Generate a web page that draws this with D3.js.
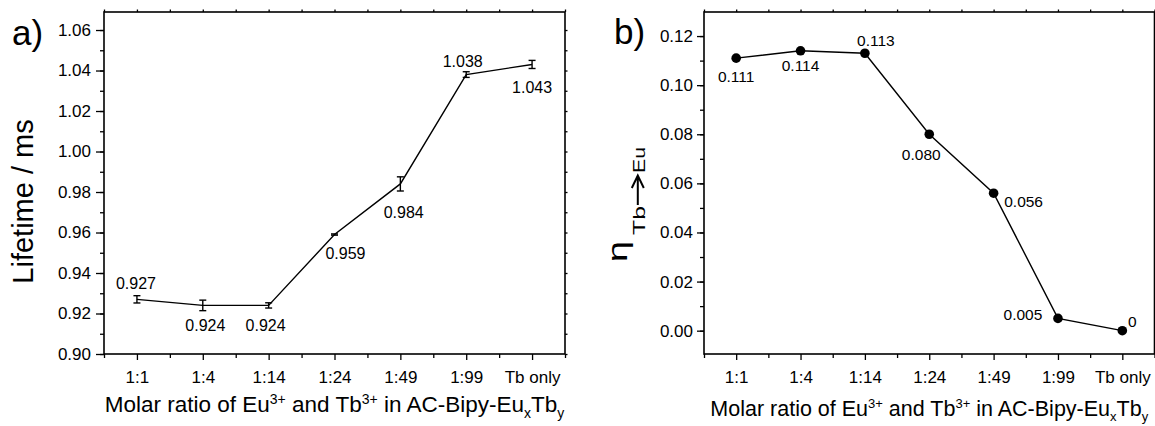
<!DOCTYPE html>
<html>
<head>
<meta charset="utf-8">
<script src="https://cdn.jsdelivr.net/npm/d3@7/dist/d3.min.js"></script>
<style>
  html, body { margin: 0; padding: 0; background: #fff; }
  svg { display: block; }
  text { font-family: "Liberation Sans", Arial, Helvetica, sans-serif; fill: #000; white-space: pre; }
</style>
</head>
<body>
<svg id="chart" width="1155" height="426"></svg>
<script>
// Shared categories (molar ratio Eu:Tb)
const categories = ["1:1", "1:4", "1:14", "1:24", "1:49", "1:99", "Tb only"];

// Panel a: luminescence lifetime (ms) with error
const lifetime = [0.927, 0.924, 0.924, 0.959, 0.984, 1.038, 1.043];
const lifetimeErr = [0.0018, 0.0026, 0.0013, 0.0003, 0.0035, 0.0014, 0.0020];
const lifetimeLabels = ["0.927", "0.924", "0.924", "0.959", "0.984", "1.038", "1.043"];
const lifetimeTicks = [0.90, 0.92, 0.94, 0.96, 0.98, 1.00, 1.02, 1.04, 1.06];

// Panel b: Tb -> Eu energy transfer efficiency
const efficiency = [0.111, 0.114, 0.113, 0.080, 0.056, 0.005, 0];
const efficiencyLabels = ["0.111", "0.114", "0.113", "0.080", "0.056", "0.005", "0"];
const efficiencyTicks = [0.00, 0.02, 0.04, 0.06, 0.08, 0.10, 0.12];

// Value label placement relative to each point (px)
const lifetimeLabelDx = [-1, 2.6, -3, 11, 3.4, -3.5, 0];
const lifetimeLabelDy = [-10, 26, 26, 24.5, 33.8, -7.3, 28.8];
const efficiencyLabelDx = [0, 0, 11, -8, 30, -35, 10];
const efficiencyLabelDy = [24, 20, -7.3, 25.7, 14, 1.6, -3.7];

const svg = d3.select("#chart");
const FONT = '"Liberation Sans", Arial, Helvetica, sans-serif';

function minorValues(lo, hi, step) {
  const out = [];
  const n = Math.round((hi - lo) / step);
  for (let i = 0; i <= n; i++) out.push(+(lo + i * step).toFixed(4));
  return out;
}

function drawFrame(box, x, xLin, y, yMinor, yTicks, opts) {
  const g = svg.append("g");

  // bottom: category ticks + half-step minor ticks
  g.append("g").attr("transform", `translate(0,${box.bottom})`)
    .call(d3.axisBottom(x).tickSize(6).tickPadding(10.5))
    .call(s => s.select(".domain").remove())
    .call(s => s.selectAll("text").attr("font-size", 17).attr("font-family", FONT));
  g.append("g").attr("transform", `translate(0,${box.bottom})`)
    .call(d3.axisBottom(xLin).tickValues(d3.range(-0.5, 7, 1)).tickSize(4).tickFormat(""))
    .call(s => s.select(".domain").remove());

  // top: small outward ticks
  g.append("g").attr("transform", `translate(0,${box.top})`)
    .call(d3.axisTop(xLin).tickValues(d3.range(-0.5, 7, 0.5)).tickSize(2.5).tickFormat(""))
    .call(s => s.select(".domain").remove());

  // left: major labelled ticks + minor ticks
  g.append("g").attr("transform", `translate(${box.left},0)`)
    .call(d3.axisLeft(y).tickValues(yTicks).tickSize(opts.tickLen).tickPadding(opts.pad).tickFormat(d3.format(".2f")))
    .call(s => s.select(".domain").remove())
    .call(s => s.selectAll("text").attr("font-size", 17).attr("font-family", FONT));
  g.append("g").attr("transform", `translate(${box.left},0)`)
    .call(d3.axisLeft(y).tickValues(yMinor).tickSize(4).tickFormat(""))
    .call(s => s.select(".domain").remove());

  // right: small outward ticks
  g.append("g").attr("transform", `translate(${box.right},0)`)
    .call(d3.axisRight(y).tickValues(yMinor).tickSize(2.5).tickFormat(""))
    .call(s => s.select(".domain").remove());

  g.selectAll(".tick line").attr("stroke", "#000").attr("stroke-width", 1.3);

  g.append("rect")
    .attr("x", box.left).attr("y", box.top)
    .attr("width", box.right - box.left).attr("height", box.bottom - box.top)
    .attr("fill", "none").attr("stroke", "#000").attr("stroke-width", 1.6);
}

function xTitle(cx, yBase, size, subShift) {
  const t = svg.append("text")
    .attr("x", cx).attr("y", yBase)
    .attr("text-anchor", "middle")
    .attr("font-size", size);
  const small = Math.round(size * 0.6);
  const parts = [
    ["Molar ratio of Eu", 0, size], ["3+", -8, small], [" and Tb", 8, size], ["3+", -8, small],
    [" in AC-Bipy-Eu", 8, size], ["x", subShift, small], ["Tb", -subShift, size], ["y", subShift, small]
  ];
  parts.forEach(([txt, dy, fs]) => {
    t.append("tspan").attr("dy", dy).attr("font-size", fs).text(txt);
  });
}

/* ---------------- Panel a ---------------- */
const boxA = { left: 104, right: 565, top: 12, bottom: 354 };
const xA = d3.scalePoint().domain(categories).range([boxA.left, boxA.right]).padding(0.5);
const xALin = d3.scaleLinear().domain([-0.5, 6.5]).range([boxA.left, boxA.right]);
const yA = d3.scaleLinear().domain([0.90, 1.0689]).range([boxA.bottom, boxA.top]);

drawFrame(boxA, xA, xALin, yA, minorValues(0.90, 1.06, 0.01), lifetimeTicks, { tickLen: 8, pad: 5 });

svg.append("path")
  .datum(lifetime)
  .attr("fill", "none").attr("stroke", "#000").attr("stroke-width", 1.4)
  .attr("d", d3.line().x((d, i) => xA(categories[i])).y(d => yA(d)));

const errG = svg.append("g").attr("stroke", "#000").attr("stroke-width", 1.4);
lifetime.forEach((v, i) => {
  const cx = xA(categories[i]);
  const y0 = yA(v - lifetimeErr[i]), y1 = yA(v + lifetimeErr[i]);
  errG.append("line").attr("x1", cx).attr("x2", cx).attr("y1", y0).attr("y2", y1);
  errG.append("line").attr("x1", cx - 3.5).attr("x2", cx + 3.5).attr("y1", y0).attr("y2", y0);
  errG.append("line").attr("x1", cx - 3.5).attr("x2", cx + 3.5).attr("y1", y1).attr("y2", y1);
});

svg.append("g").selectAll("text")
  .data(lifetime)
  .join("text")
  .attr("x", (d, i) => xA(categories[i]) + lifetimeLabelDx[i])
  .attr("y", (d, i) => yA(d) + lifetimeLabelDy[i])
  .attr("text-anchor", "middle")
  .attr("font-size", 16)
  .text((d, i) => lifetimeLabels[i]);

svg.append("text")
  .attr("transform", `translate(33,${(boxA.top + boxA.bottom) / 2 + 18.5}) rotate(-90)`)
  .attr("text-anchor", "middle")
  .attr("font-size", 29)
  .text("Lifetime / ms");

svg.append("text").attr("x", 12).attr("y", 45).attr("font-size", 35).text("a)");

xTitle((boxA.left + boxA.right) / 2, 412, 22.5, 6);

/* ---------------- Panel b ---------------- */
const boxB = { left: 704, right: 1154.5, top: 12, bottom: 354 };
const xB = d3.scalePoint().domain(categories).range([boxB.left, boxB.right]).padding(0.5);
const xBLin = d3.scaleLinear().domain([-0.5, 6.5]).range([boxB.left, boxB.right]);
const yB = d3.scaleLinear().domain([-0.0095, 0.1298]).range([boxB.bottom, boxB.top]);

drawFrame(boxB, xB, xBLin, yB, minorValues(-0.0, 0.12, 0.01), efficiencyTicks, { tickLen: 7, pad: 4 });

svg.append("path")
  .datum(efficiency)
  .attr("fill", "none").attr("stroke", "#000").attr("stroke-width", 1.4)
  .attr("d", d3.line().x((d, i) => xB(categories[i])).y(d => yB(d)));

svg.append("g").selectAll("circle")
  .data(efficiency)
  .join("circle")
  .attr("cx", (d, i) => xB(categories[i]))
  .attr("cy", d => yB(d))
  .attr("r", 4.8)
  .attr("fill", "#000");

svg.append("g").selectAll("text")
  .data(efficiency)
  .join("text")
  .attr("x", (d, i) => xB(categories[i]) + efficiencyLabelDx[i])
  .attr("y", (d, i) => yB(d) + efficiencyLabelDy[i])
  .attr("text-anchor", "middle")
  .attr("font-size", 15.5)
  .text((d, i) => efficiencyLabels[i]);

// y-axis title: eta with subscript Tb -> Eu
const yTitle = svg.append("g");
yTitle.append("text")
  .attr("transform", "translate(627,262) rotate(-90)")
  .attr("font-size", 28)
  .attr("textLength", 21).attr("lengthAdjust", "spacingAndGlyphs")
  .text("η");
yTitle.append("text")
  .attr("transform", "translate(645,235) rotate(-90)")
  .attr("font-size", 17)
  .attr("textLength", 29).attr("lengthAdjust", "spacingAndGlyphs")
  .text("Tb");
yTitle.append("path")
  .attr("d", "M637.8,205 L637.8,176 M631.8,188 L637.8,175.5 L643.8,188")
  .attr("fill", "none").attr("stroke", "#000").attr("stroke-width", 2);
yTitle.append("text")
  .attr("transform", "translate(645,173) rotate(-90)")
  .attr("font-size", 17)
  .attr("textLength", 26).attr("lengthAdjust", "spacingAndGlyphs")
  .text("Eu");

svg.append("text").attr("x", 614).attr("y", 44).attr("font-size", 35).text("b)");

xTitle((boxB.left + boxB.right) / 2, 416, 21.5, 5);
</script>
</body>
</html>
